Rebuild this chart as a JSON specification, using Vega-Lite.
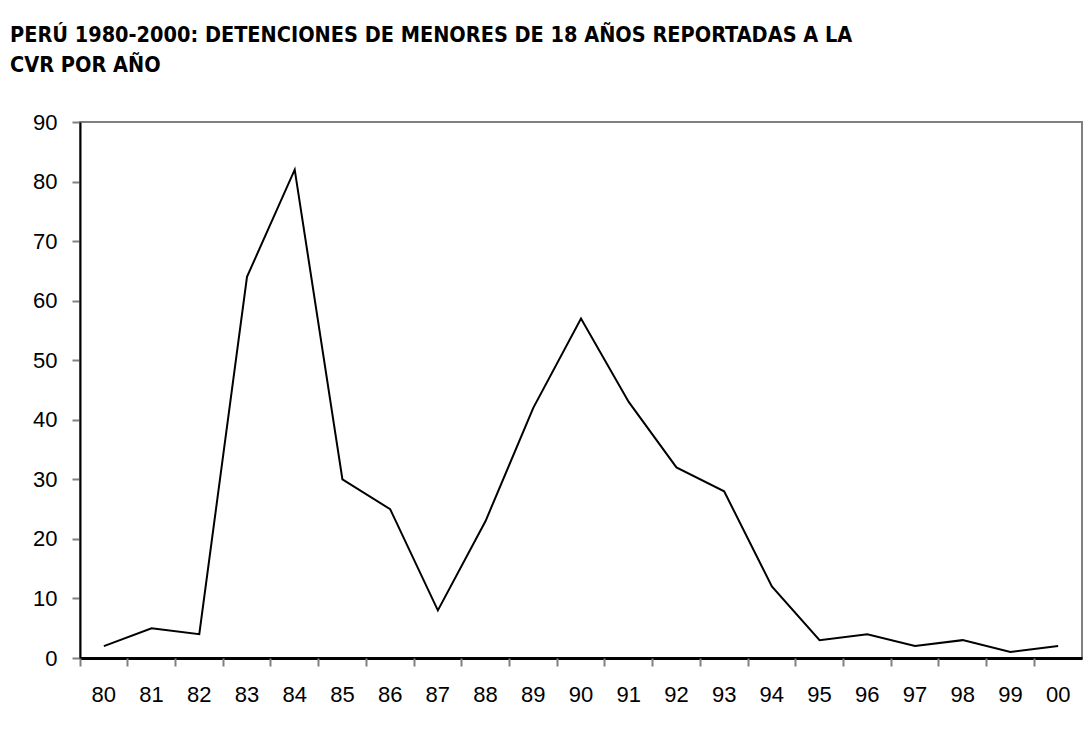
{
  "$schema": "https://vega.github.io/schema/vega-lite/v6.json",
  "width": 1002,
  "height": 536,
  "autosize": {"type": "none"},
  "padding": {"left": 80, "top": 122, "right": 3, "bottom": 73},
  "background": "white",
  "title": {
    "text": ["PERÚ 1980-2000: DETENCIONES DE MENORES DE 18 AÑOS REPORTADAS A LA", "CVR POR AÑO"],
    "font": "DejaVu Sans Condensed",
    "fontWeight": "bold",
    "fontSize": 21.5,
    "lineHeight": 29.5,
    "color": "black",
    "anchor": "start",
    "frame": "group",
    "dx": -70,
    "offset": 35
  },
  "config": {
    "view": {"stroke": "#808080", "strokeWidth": 2},
    "axis": {
      "labelFont": "Liberation Sans",
      "labelFontSize": 22,
      "labelColor": "black",
      "domainColor": "black",
      "tickColor": "#808080",
      "grid": false,
      "title": null
    }
  },
  "data": {
    "values": [
      {"year": "80", "n": 2}, {"year": "81", "n": 5}, {"year": "82", "n": 4},
      {"year": "83", "n": 64}, {"year": "84", "n": 82}, {"year": "85", "n": 30},
      {"year": "86", "n": 25}, {"year": "87", "n": 8}, {"year": "88", "n": 23},
      {"year": "89", "n": 42}, {"year": "90", "n": 57}, {"year": "91", "n": 43},
      {"year": "92", "n": 32}, {"year": "93", "n": 28}, {"year": "94", "n": 12},
      {"year": "95", "n": 3}, {"year": "96", "n": 4}, {"year": "97", "n": 2},
      {"year": "98", "n": 3}, {"year": "99", "n": 1}, {"year": "00", "n": 2}
    ]
  },
  "layer": [
    {
      "mark": {"type": "line", "color": "black", "strokeWidth": 2},
      "encoding": {
        "x": {
          "field": "year", "type": "ordinal", "sort": null,
          "scale": {"type": "band", "paddingInner": 0, "paddingOuter": 0},
          "axis": {"orient": "bottom", "labelAngle": 0, "ticks": false, "domainWidth": 3, "labelPadding": 26}
        },
        "y": {
          "field": "n", "type": "quantitative",
          "scale": {"domain": [0, 90], "nice": false, "zero": true},
          "axis": {"values": [0, 10, 20, 30, 40, 50, 60, 70, 80, 90], "tickSize": 8, "tickWidth": 2, "labelPadding": 15, "domainWidth": 2}
        }
      }
    },
    {
      "mark": {"type": "line", "opacity": 0},
      "encoding": {
        "x": {
          "field": "year", "type": "ordinal", "sort": null,
          "axis": {"orient": "bottom", "bandPosition": 0, "labels": false, "domain": false, "ticks": true, "tickSize": 8, "tickWidth": 2}
        },
        "y": {"field": "n", "type": "quantitative"}
      }
    }
  ],
  "resolve": {"axis": {"x": "independent"}}
}
